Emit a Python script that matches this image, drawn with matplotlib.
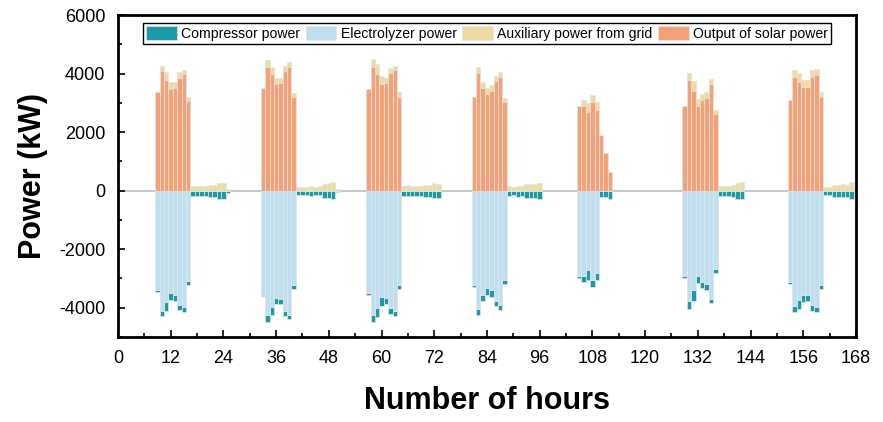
"""hourly power balance of the hydrogen plant over one week"""

import numpy as np
import matplotlib.pyplot as plt
from matplotlib.ticker import MultipleLocator

# one row per day, 24 hourly values (hour 1 .. 168)
solar_power = [
    [0, 0, 0, 0, 0, 0, 0, 0, 3380, 4080, 3780, 3480, 3500, 3850, 3970, 3060, 0, 0, 0, 0, 0, 0, 0, 0],
    [0, 0, 0, 0, 0, 0, 0, 0, 3510, 4230, 3970, 3650, 3690, 4100, 4240, 3210, 0, 0, 0, 0, 0, 0, 0, 0],
    [0, 0, 0, 0, 0, 0, 0, 0, 3460, 4230, 4000, 3650, 3690, 4010, 4110, 3200, 0, 0, 0, 0, 0, 0, 0, 0],
    [0, 0, 0, 0, 0, 0, 0, 0, 3210, 4030, 3520, 3310, 3390, 3740, 3870, 3020, 0, 0, 0, 0, 0, 0, 0, 0],
    [0, 0, 0, 0, 0, 0, 0, 0, 2890, 2890, 2680, 3030, 2770, 1910, 1280, 650, 0, 0, 0, 0, 0, 0, 0, 0],
    [0, 0, 0, 0, 0, 0, 0, 0, 2890, 3770, 3400, 2890, 3110, 3150, 3660, 2630, 0, 0, 0, 0, 0, 0, 0, 0],
    [0, 0, 0, 0, 0, 0, 0, 0, 3110, 3880, 3710, 3540, 3550, 3880, 3960, 3200, 0, 0, 0, 0, 0, 0, 0, 0],
]
grid_power = [
    [0, 0, 0, 0, 0, 0, 0, 0, 0, 180, 290, 240, 220, 210, 160, 130, 160, 160, 160, 160, 180, 180, 250, 250],
    [50, 0, 0, 0, 0, 0, 0, 0, 0, 240, 260, 210, 160, 160, 140, 140, 140, 120, 120, 160, 140, 150, 220, 250],
    [280, 50, 0, 0, 0, 0, 0, 0, 0, 260, 320, 270, 160, 180, 150, 170, 160, 180, 160, 150, 150, 180, 200, 250],
    [230, 0, 0, 0, 0, 0, 0, 0, 0, 200, 200, 210, 210, 170, 180, 130, 160, 130, 170, 160, 220, 220, 220, 260],
    [0, 0, 0, 0, 0, 0, 0, 0, 0, 200, 320, 250, 260, 0, 0, 0, 0, 0, 0, 0, 0, 0, 0, 0],
    [0, 0, 0, 0, 0, 0, 0, 0, 0, 240, 340, 250, 200, 230, 160, 140, 160, 160, 160, 210, 250, 290, 0, 0],
    [0, 0, 0, 0, 0, 0, 0, 0, 0, 230, 320, 240, 230, 230, 210, 170, 120, 140, 200, 200, 220, 200, 290, 0],
]
electrolyzer_power = [
    [0, 0, 0, 0, 0, 0, 0, 0, -3400, -4100, -3810, -3500, -3550, -3890, -3990, -3070, 0, 0, 0, 0, 0, 0, 0, 0],
    [0, 0, 0, 0, 0, 0, 0, 0, -3550, -4250, -3990, -3660, -3700, -4120, -4250, -3230, 0, 0, 0, 0, 0, 0, 0, 0],
    [0, 0, 0, 0, 0, 0, 0, 0, -3480, -4250, -4010, -3640, -3680, -4020, -4120, -3210, 0, 0, 0, 0, 0, 0, 0, 0],
    [0, 0, 0, 0, 0, 0, 0, 0, -3240, -4040, -3550, -3320, -3410, -3760, -3890, -3050, 0, 0, 0, 0, 0, 0, 0, 0],
    [0, 0, 0, 0, 0, 0, 0, 0, -2930, -2930, -2700, -3050, -2810, 0, 0, 0, 0, 0, 0, 0, 0, 0, 0, 0],
    [0, 0, 0, 0, 0, 0, 0, 0, -2920, -3780, -3410, -2900, -3130, -3180, -3690, -2660, 0, 0, 0, 0, 0, 0, 0, 0],
    [0, 0, 0, 0, 0, 0, 0, 0, -3130, -3930, -3730, -3560, -3580, -3900, -3960, -3210, 0, 0, 0, 0, 0, 0, 0, 0],
]
compressor_power = [
    [0, 0, 0, 0, 0, 0, 0, 0, -70, -170, -290, -230, -210, -180, -170, -140, -170, -170, -170, -170, -210, -220, -280, -280],
    [-70, 0, 0, 0, 0, 0, 0, 0, -60, -230, -260, -210, -170, -150, -150, -140, -160, -140, -160, -170, -160, -160, -250, -260],
    [-300, -60, 0, 0, 0, 0, 0, 0, -80, -250, -320, -290, -200, -200, -160, -160, -180, -180, -170, -170, -180, -210, -220, -260],
    [-260, 0, 0, 0, 0, 0, 0, 0, -60, -200, -210, -230, -210, -170, -180, -140, -170, -150, -210, -180, -240, -240, -250, -290],
    [0, 0, 0, 0, 0, 0, 0, 0, -50, -200, -340, -250, -240, -230, -230, -280, 0, 0, 0, 0, 0, 0, 0, 0],
    [0, 0, 0, 0, 0, 0, 0, 0, -60, -260, -370, -250, -210, -230, -160, -150, -170, -170, -180, -230, -280, -300, 0, 0],
    [0, 0, 0, 0, 0, 0, 0, 0, -60, -200, -310, -230, -200, -200, -200, -160, -150, -150, -210, -230, -230, -230, -300, 0],
]

COLORS = {
    "comp": "#1b9aa8",
    "elec": "#bddff0",
    "grid": "#ecdca2",
    "solar": "#f3a176",
}

plt.rcParams['font.family'] = ['Liberation Sans', 'DejaVu Sans']
plt.rcParams['axes.unicode_minus'] = False

solar = np.concatenate(solar_power)
grid = np.concatenate(grid_power)
elec = np.concatenate(electrolyzer_power)
comp = np.concatenate(compressor_power)
hours = np.arange(1, len(solar) + 1)

fig = plt.figure(figsize=(8.83, 4.22), dpi=100)
ax = fig.add_axes([0.1336, 0.2014, 0.8358, 0.763])

ax.axhline(0, color='#c8c8c8', lw=1.5, zorder=0.5)

bar_kw = dict(width=1.0, edgecolor='#e4e4e4', linewidth=0.5, zorder=2)

# negative side: electrolyzer from zero, compressor stacked beneath it
m = comp != 0
ax.bar(hours[m], comp[m], bottom=elec[m], color=COLORS["comp"],
       label="Compressor power", **bar_kw)
m = elec != 0
ax.bar(hours[m], elec[m], color=COLORS["elec"],
       label="Electrolyzer power", **bar_kw)

# positive side: solar from zero, grid stacked on top
m = grid != 0
ax.bar(hours[m], grid[m], bottom=solar[m], color=COLORS["grid"],
       label="Auxiliary power from grid", **bar_kw)
m = solar != 0
ax.bar(hours[m], solar[m], color=COLORS["solar"],
       label="Output of solar power", **bar_kw)

ax.set_xlim(0, 168)
ax.set_ylim(-5000, 6000)
ax.xaxis.set_major_locator(MultipleLocator(12))
ax.xaxis.set_minor_locator(MultipleLocator(6))
ax.yaxis.set_major_locator(MultipleLocator(2000))
ax.yaxis.set_minor_locator(MultipleLocator(1000))
ax.tick_params(which='both', direction='in', width=1.2, labelsize=13)
ax.tick_params(which='major', length=5)
ax.tick_params(which='minor', length=3)
ax.tick_params(axis='x', pad=9)
ax.tick_params(axis='y', pad=9)
for s in ax.spines.values():
    s.set_linewidth(2.0)

ax.set_xlabel("Number of hours", fontsize=22, fontweight='bold', labelpad=14)
ax.set_ylabel("Power (kW)", fontsize=22, fontweight='bold', labelpad=8)

leg = ax.legend(loc='upper center', ncol=4, fontsize=10.1, frameon=True,
                fancybox=False, framealpha=1, edgecolor='black',
                handlelength=2.2, handleheight=1.1, handletextpad=0.3,
                columnspacing=0.4, borderpad=0.2, borderaxespad=0.6)
leg.get_frame().set_linewidth(1.0)

fig.savefig("out.png", dpi=100)
